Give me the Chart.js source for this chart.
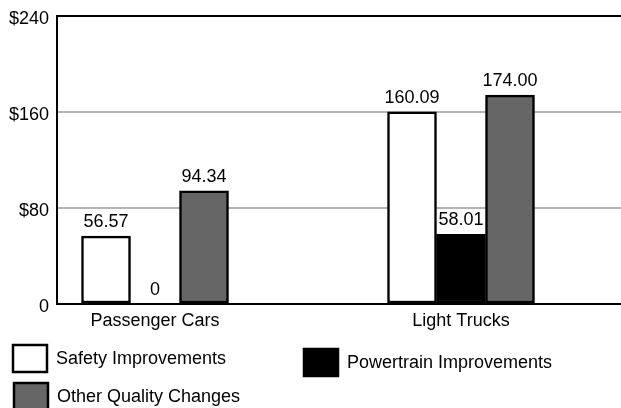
<!DOCTYPE html>
<html>
<head>
<meta charset="utf-8">
<script src="https://cdn.jsdelivr.net/npm/chart.js@4.4.0/dist/chart.umd.min.js"></script>
<style>
  html, body { margin: 0; padding: 0; background: #fff; }
</style>
</head>
<body>
<canvas id="chart" width="621" height="408"></canvas>
<script>
const categories = ['Passenger Cars', 'Light Trucks'];
const seriesNames = ['Safety Improvements', 'Powertrain Improvements', 'Other Quality Changes'];
const safety = [56.57, 160.09];
const powertrain = [0, 58.01];
const otherQuality = [94.34, 174.00];
const yTickValues = [0, 80, 160, 240];
const yTickLabels = ['0', '$80', '$160', '$240'];

const FONT = "'Liberation Sans', Arial, Helvetica, sans-serif";
Chart.defaults.font.family = FONT;
Chart.defaults.font.size = 18;
Chart.defaults.color = '#000';

const toPoints = (vals) => vals.map((v, i) => ({ x: i, y: v }));

// value labels above each bar
const valueLabels = {
  id: 'valueLabels',
  afterDatasetsDraw(chart) {
    const ctx = chart.ctx;
    ctx.save();
    ctx.font = '18px ' + FONT;
    ctx.fillStyle = '#000';
    ctx.textAlign = 'center';
    ctx.textBaseline = 'alphabetic';
    chart.data.datasets.forEach((ds, di) => {
      chart.getDatasetMeta(di).data.forEach((bar, i) => {
        const v = ds.data[i].y;
        const txt = v === 0 ? '0' : v.toFixed(2);
        ctx.fillText(txt, bar.x, bar.y - 9);
      });
    });
    ctx.restore();
  }
};

// legend laid out like the original: two on the first row, one below
const boxLegend = {
  id: 'boxLegend',
  afterDraw(chart) {
    const ctx = chart.ctx;
    const spots = [[13, 345], [304, 349], [14, 383]];
    ctx.save();
    ctx.font = '18px ' + FONT;
    ctx.textBaseline = 'middle';
    ctx.textAlign = 'left';
    chart.data.datasets.forEach((ds, i) => {
      const [x, y] = spots[i];
      ctx.fillStyle = ds.backgroundColor;
      ctx.fillRect(x, y, 34, 27);
      ctx.lineWidth = 2.5;
      ctx.strokeStyle = '#000';
      ctx.strokeRect(x, y, 34, 27);
      ctx.fillStyle = '#000';
      ctx.fillText(ds.label, x + 43, y + 14);
    });
    ctx.restore();
  }
};

new Chart(document.getElementById('chart'), {
  type: 'bar',
  data: {
    datasets: [
      { label: seriesNames[0], data: toPoints(safety), backgroundColor: '#fff' },
      { label: seriesNames[1], data: toPoints(powertrain), backgroundColor: '#000' },
      { label: seriesNames[2], data: toPoints(otherQuality), backgroundColor: '#666' }
    ]
  },
  options: {
    responsive: false,
    animation: false,
    layout: { padding: { top: 16, right: 0, bottom: 74, left: 0 } },
    datasets: {
      bar: {
        barThickness: 49,
        borderColor: '#000',
        borderWidth: 2.5,
        borderSkipped: false
      }
    },
    plugins: {
      legend: { display: false },
      tooltip: { enabled: false }
    },
    scales: {
      x: {
        type: 'linear',
        offset: false,
        min: -0.3203,
        max: 1.5229,
        afterBuildTicks: (axis) => { axis.ticks = categories.map((c, i) => ({ value: i })); },
        afterFit: (axis) => { axis.height = 30; },
        ticks: {
          callback: (v) => categories[v],
          padding: -2,
          maxRotation: 0
        },
        grid: { display: false, offset: false },
        border: { display: true, color: '#000', width: 2 }
      },
      y: {
        min: 0,
        max: 240,
        afterBuildTicks: (axis) => { axis.ticks = yTickValues.map(v => ({ value: v })); },
        afterFit: (axis) => { axis.width = 57; axis.paddingTop = 0; axis.paddingBottom = 0; },
        ticks: {
          callback: (v) => yTickLabels[yTickValues.indexOf(v)],
          padding: 8,
          labelOffset: 3
        },
        grid: {
          drawTicks: false,
          lineWidth: 2,
          color: (c) => c.tick && c.tick.value === 240 ? '#000' : (c.tick && c.tick.value === 0 ? 'rgba(0,0,0,0)' : '#b4b4b4')
        },
        border: { display: true, color: '#000', width: 2 }
      }
    }
  },
  plugins: [valueLabels, boxLegend]
});
</script>
</body>
</html>
